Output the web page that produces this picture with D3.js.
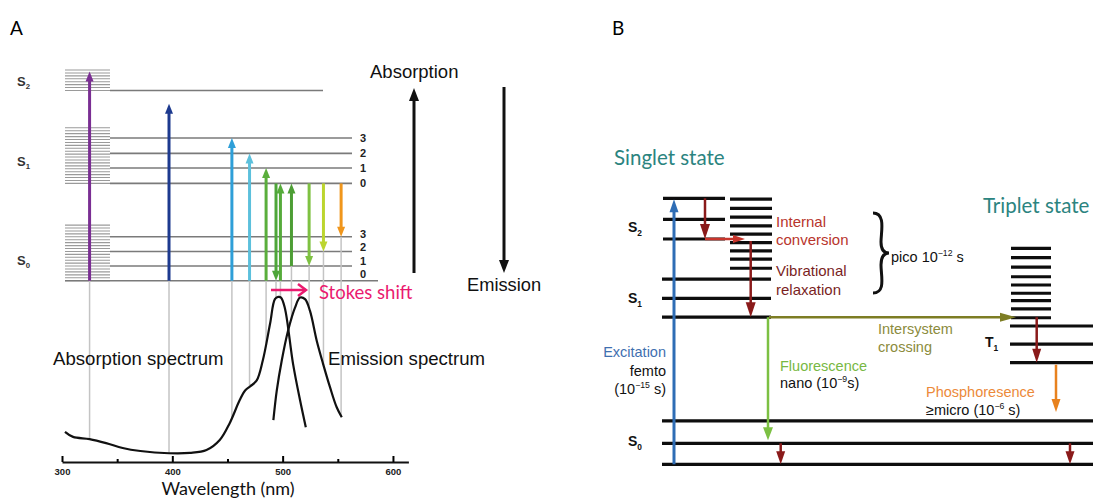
<!DOCTYPE html>
<html>
<head>
<meta charset="utf-8">
<script src="https://cdn.jsdelivr.net/npm/d3@7"></script>
<style>
  body { margin: 0; background: #fff; }
  svg { display: block; }
</style>
</head>
<body>
<div id="chart"></div>
<script>
// ---------- Panel A data ----------
// energy levels, arbitrary units (S0 v=0 is 0)
var s0Vib = [0, 1, 2, 3];
var s1Vib = [6.65, 7.7, 8.7, 9.75];
var s2Level = 13;
var vibLabels = ["0", "1", "2", "3"];
var bandS0 = [0, 3.8];
var bandS1 = [6.65, 10.5];
var bandS2 = [13, 14.4];

// transitions: wavelength (nm), start energy, end energy
var transNm   = [325, 397, 454, 470, 485, 494, 498, 508, 524, 537, 553];
var transFrom = [0, 0, 0, 0, 0, 6.65, 0, 1, 6.65, 6.65, 6.65];
var transTo   = [14.3, 12.1, 9.75, 8.7, 7.7, 0, 6.65, 6.65, 1, 2, 3];

// spectra (wavelength nm, relative intensity)
var absNm  = [302.7, 310, 325, 340, 355, 371, 397, 416, 431, 443, 452, 461, 466, 470.5, 476.5, 482, 488.6, 493, 496, 498.5, 502, 509.4, 515.8, 521];
var absVal = [0.146, 0.114, 0.10, 0.075, 0.044, 0.025, 0.011, 0.013, 0.031, 0.094, 0.2, 0.344, 0.406, 0.431, 0.469, 0.594, 0.825, 0.98, 0.994, 0.99, 0.925, 0.575, 0.344, 0.175];
var emNm   = [491.6, 494.7, 499.2, 504.9, 511.2, 515.8, 520.3, 524.8, 530.9, 536.6, 543, 549, 553.6];
var emVal  = [0.219, 0.406, 0.594, 0.781, 0.927, 0.99, 0.98, 0.906, 0.719, 0.575, 0.425, 0.3, 0.2375];
var axisTicks = [300, 400, 500, 600];
var minorTicks = [350, 450, 550];

// ---------- Panel B data ----------
var bS0 = [0, 0.79, 1.63];
var bS1 = [5.53, 6.24, 6.96];
var bS2 = [8.47, 9.21, 10];
var bSStack = [7.37, 7.71, 8.02, 8.33, 8.65, 8.96, 9.29, 9.62, 9.97];
var bT1 = [3.82, 4.52, 5.2];
var bTStack = [5.51, 5.84, 6.15, 6.43, 6.74, 7.05, 7.41, 7.77, 8.12];

var transColors = ["#7a2e93", "#1d3a8f", "#2e9fd8", "#5cc0dc", "#5aae3c", "#4ea63a",
                   "#55ab3a", "#4d9e35", "#7ec142", "#bcd52f", "#f0961c"];

var W = 1093, H = 498;
var sans = "'Liberation Sans', Arial, sans-serif";
var calib = "Lato, 'Open Sans', sans-serif";

var svg = d3.select("#chart").append("svg")
  .attr("width", W).attr("height", H);

// arrow helper: line plus filled triangular head at (x2,y2)
function arrow(g, x1, y1, x2, y2, color, w, hl, hw) {
  var dx = x2 - x1, dy = y2 - y1, len = Math.sqrt(dx * dx + dy * dy);
  var ux = dx / len, uy = dy / len;
  var bx = x2 - ux * hl, by = y2 - uy * hl;
  g.append("line")
    .attr("x1", x1).attr("y1", y1).attr("x2", bx + ux).attr("y2", by + uy)
    .attr("stroke", color).attr("stroke-width", w);
  g.append("path")
    .attr("d", "M" + x2 + "," + y2 +
      "L" + (bx - uy * hw / 2) + "," + (by + ux * hw / 2) +
      "L" + (bx + uy * hw / 2) + "," + (by - ux * hw / 2) + "Z")
    .attr("fill", color);
}

function interp(xs, ys, v) {
  if (v < xs[0] || v > xs[xs.length - 1]) return 0;
  for (var i = 1; i < xs.length; i++) {
    if (v <= xs[i]) {
      var t = (v - xs[i - 1]) / (xs[i] - xs[i - 1]);
      return ys[i - 1] + t * (ys[i] - ys[i - 1]);
    }
  }
  return 0;
}

// sub/superscript text helper
function scriptText(g, x, y, parts, opts) {
  var t = g.append("text").attr("x", x).attr("y", y)
    .attr("font-family", opts.family || sans)
    .attr("font-size", opts.size)
    .attr("font-weight", opts.weight || "normal")
    .attr("fill", opts.fill || "#111")
    .attr("text-anchor", opts.anchor || "start");
  var shift = 0;
  parts.forEach(function(p) {
    var s = t.append("tspan").text(p.t);
    var target = p.sup ? -opts.size * 0.4 : (p.sub ? opts.size * 0.25 : 0);
    s.attr("dy", target - shift);
    shift = target;
    if (p.sup || p.sub) s.attr("font-size", opts.size * 0.6);
  });
  return t;
}

// ================= PANEL A =================
var gA = svg.append("g");

gA.append("text").attr("x", 10).attr("y", 35)
  .attr("font-family", calib).attr("font-size", 19).text("A");

var yA = d3.scaleLinear().domain([0, 14.4]).range([280.7, 70]);
var xA = d3.scaleLinear().domain([300, 614]).range([62, 408.4]);
var yI = d3.scaleLinear().domain([0, 1]).range([455, 296]);

// dense vibrational bands on the left
[bandS0, bandS1, bandS2].forEach(function(b) {
  gA.append("g").selectAll("line")
    .data(d3.range(b[0], b[1] + 0.001, 0.2))
    .enter().append("line")
    .attr("x1", 65).attr("x2", 110)
    .attr("y1", d => yA(d)).attr("y2", d => yA(d))
    .attr("stroke", "#9a9a9a").attr("stroke-width", 1.1);
});

// level lines
gA.append("line").attr("x1", 110).attr("x2", 323)
  .attr("y1", yA(s2Level)).attr("y2", yA(s2Level))
  .attr("stroke", "#7a7a7a").attr("stroke-width", 1.6);
gA.selectAll(".s1lvl").data(s1Vib).enter().append("line")
  .attr("x1", 110).attr("x2", 352)
  .attr("y1", d => yA(d)).attr("y2", d => yA(d))
  .attr("stroke", "#7a7a7a").attr("stroke-width", 1.6);
gA.selectAll(".s0lvl").data(s0Vib).enter().append("line")
  .attr("x1", (d, i) => i === 0 ? 65 : 110).attr("x2", (d, i) => i === 0 ? 378 : 352)
  .attr("y1", d => yA(d)).attr("y2", d => yA(d))
  .attr("stroke", "#7a7a7a").attr("stroke-width", 1.6);

// vib labels (S0 labels sit slightly above their lines, as in the source)
s1Vib.forEach(function(e, i) {
  gA.append("text").attr("x", 360).attr("y", yA(e) + 4)
    .attr("font-family", sans).attr("font-size", 11).attr("font-weight", "bold")
    .attr("fill", "#222").text(vibLabels[i]);
});
s0Vib.forEach(function(e, i) {
  gA.append("text").attr("x", 360).attr("y", yA(e * 0.91 + 0.45) + 4)
    .attr("font-family", sans).attr("font-size", 11).attr("font-weight", "bold")
    .attr("fill", "#222").text(vibLabels[i]);
});

// state labels
[[s2Level, "2", 86], [s1Vib[1], "1", 166], [s0Vib[1], "0", 265]].forEach(function(s) {
  scriptText(gA, 17, s[2], [{t: "S"}, {t: s[1], sub: true}],
    {size: 13, weight: "bold", fill: "#333"});
});

// grey drop lines down to the spectra
transNm.forEach(function(nm, i) {
  var v = Math.max(interp(absNm, absVal, nm), interp(emNm, emVal, nm));
  var top = yA(Math.min(transFrom[i], transTo[i]));
  gA.append("line").attr("x1", xA(nm)).attr("x2", xA(nm))
    .attr("y1", top).attr("y2", v > 0 ? yI(v) : 455)
    .attr("stroke", "#c4c4c4").attr("stroke-width", 1.5);
});

// transition arrows
transNm.forEach(function(nm, i) {
  arrow(gA, xA(nm), yA(transFrom[i]), xA(nm), yA(transTo[i]),
    transColors[i], 3, 10, 8);
});

// Absorption / Emission big arrows
gA.append("text").attr("x", 370).attr("y", 78)
  .attr("font-family", sans).attr("font-size", 18.5).attr("fill", "#111").text("Absorption");
arrow(gA, 414, 273, 414, 88, "#111", 3, 13, 10);
gA.append("text").attr("x", 467).attr("y", 291)
  .attr("font-family", sans).attr("font-size", 18.3).attr("fill", "#111").text("Emission");
arrow(gA, 504, 87, 504, 273, "#111", 3, 13, 10);

// Stokes shift
gA.append("line").attr("x1", 271).attr("x2", 306).attr("y1", 290).attr("y2", 290)
  .attr("stroke", "#ea1a6f").attr("stroke-width", 2.5);
gA.append("polyline").attr("points", "298,284 306,290 298,296")
  .attr("fill", "none").attr("stroke", "#ea1a6f").attr("stroke-width", 2.5);
gA.append("text").attr("x", 319).attr("y", 299)
  .attr("font-family", calib).attr("font-size", 18.5).attr("fill", "#ea1a6f").text("Stokes shift");

// spectra
var line = d3.line().x(d => xA(d[0])).y(d => yI(d[1])).curve(d3.curveCatmullRom);
gA.append("path").datum(d3.zip(absNm, absVal)).attr("d", line)
  .attr("fill", "none").attr("stroke", "#111").attr("stroke-width", 2.2);
gA.append("path").datum(d3.zip(emNm, emVal)).attr("d", line)
  .attr("fill", "none").attr("stroke", "#111").attr("stroke-width", 2.2);

gA.append("text").attr("x", 53).attr("y", 365)
  .attr("font-family", sans).attr("font-size", 18.6).attr("fill", "#111").text("Absorption spectrum");
gA.append("text").attr("x", 328).attr("y", 365)
  .attr("font-family", sans).attr("font-size", 18.6).attr("fill", "#111").text("Emission spectrum");

// wavelength axis
var ax = gA.append("g").attr("transform", "translate(0,462)")
  .call(d3.axisBottom(xA).tickValues(axisTicks).tickSizeInner(-6).tickSizeOuter(0).tickPadding(6));
ax.select(".domain").attr("stroke-width", 2.2).attr("stroke", "#111");
ax.selectAll(".tick line").attr("stroke-width", 2);
ax.selectAll(".tick text").attr("font-family", sans).attr("font-size", 9.5)
  .attr("font-weight", "bold").attr("fill", "#222");
var axm = gA.append("g").attr("transform", "translate(0,462)")
  .call(d3.axisBottom(xA).tickValues(minorTicks).tickSizeInner(-3).tickSizeOuter(0).tickFormat(""));
axm.select(".domain").remove();
axm.selectAll(".tick line").attr("stroke-width", 2);

gA.append("text").attr("x", 228).attr("y", 495).attr("text-anchor", "middle")
  .attr("font-family", calib).attr("font-size", 18).attr("fill", "#111").text("Wavelength (nm)");

// ================= PANEL B =================
var gB = svg.append("g");
gB.append("text").attr("x", 612).attr("y", 35)
  .attr("font-family", calib).attr("font-size", 19).text("B");

var yB = d3.scaleLinear().domain([0, 10]).range([464.3, 198.3]);
var teal = "#2b8480";

gB.append("text").attr("x", 614).attr("y", 165)
  .attr("font-family", calib).attr("font-size", 20.5).attr("fill", teal).text("Singlet state");
gB.append("text").attr("x", 983).attr("y", 213)
  .attr("font-family", calib).attr("font-size", 20.5).attr("fill", teal).text("Triplet state");

function levels(data, x1, x2) {
  gB.append("g").selectAll("line").data(data).enter().append("line")
    .attr("x1", x1).attr("x2", x2)
    .attr("y1", d => yB(d)).attr("y2", d => yB(d))
    .attr("stroke", "#0d0d0d").attr("stroke-width", 3.2);
}
levels(bS2, 663, 725);
levels(bSStack, 730, 772);
levels(bS1, 662, 771);
levels(bS0, 662, 1093);
levels(bT1, 1010, 1093);
levels(bTStack, 1011, 1051);

scriptText(gB, 628, 232, [{t: "S"}, {t: "2", sub: true}], {size: 14, weight: "bold"});
scriptText(gB, 628, 303, [{t: "S"}, {t: "1", sub: true}], {size: 14, weight: "bold"});
scriptText(gB, 628, 446, [{t: "S"}, {t: "0", sub: true}], {size: 14, weight: "bold"});
scriptText(gB, 985, 347, [{t: "T"}, {t: "1", sub: true}], {size: 14, weight: "bold"});

var darkRed = "#8a1a1a";
// excitation
arrow(gB, 674, yB(bS0[0]), 674, yB(bS2[2]) + 1, "#2f6db5", 3, 13, 9);
// internal conversion
arrow(gB, 705, yB(bS2[2]), 705, yB(bS2[0]), darkRed, 2.5, 15, 10);
arrow(gB, 705, yB(bS2[0]), 745, yB(bS2[0]), "#c8352c", 2.5, 12, 8);
// vibrational relaxation
arrow(gB, 750.7, yB(bS2[0]) + 2, 750.7, yB(bS1[0]), darkRed, 2.5, 15, 10);
// fluorescence
arrow(gB, 768, yB(bS1[0]), 768, yB(bS0[1]) - 3, "#7cc043", 2.5, 13, 10);
arrow(gB, 780.7, yB(bS0[1]), 780.7, yB(bS0[0]), darkRed, 2.5, 13, 9);
// intersystem crossing
arrow(gB, 769, yB(bS1[0]), 1016, yB(bS1[0]), "#7d7d24", 2.5, 16, 9);
// triplet relaxation and phosphorescence
arrow(gB, 1036.7, yB(bS1[0]), 1036.7, yB(bT1[0]), darkRed, 2.5, 14, 9);
arrow(gB, 1056, yB(bT1[0]) + 2, 1056, yB(bS0[2]) - 9, "#e8821e", 2.5, 13, 9);
arrow(gB, 1070, yB(bS0[1]), 1070, yB(bS0[0]), darkRed, 2.5, 13, 9);

// texts
function txt(x, y, s, color, size, anchor) {
  return gB.append("text").attr("x", x).attr("y", y)
    .attr("font-family", sans).attr("font-size", size || 14.5)
    .attr("fill", color).attr("text-anchor", anchor || "start").text(s);
}
txt(776, 227, "Internal", "#b8352c", 15);
txt(776, 245, "conversion", "#b8352c", 15);
txt(776, 276, "Vibrational", "#7a1f1f", 15);
txt(776, 295, "relaxation", "#7a1f1f", 15);

// brace
gB.append("path")
  .attr("d", "M873,213 C886,213 881,232 881,242 C881,250 884,253 889,253 C884,253 881,256 881,265 C881,276 886,293 873,293")
  .attr("fill", "none").attr("stroke", "#111").attr("stroke-width", 3);
scriptText(gB, 891, 262, [{t: "pico 10"}, {t: "\u221212", sup: true}, {t: " s"}], {size: 14.5});

txt(878, 334, "Intersystem", "#8b8b3c", 14.5);
txt(878, 352, "crossing", "#8b8b3c", 14.5);

txt(666, 357, "Excitation", "#3f6fb0", 14.5, "end");
txt(666, 376, "femto", "#111", 14.5, "end");
scriptText(gB, 666, 394, [{t: "(10"}, {t: "\u221215", sup: true}, {t: " s)"}], {size: 14.5, anchor: "end"});

txt(780, 371, "Fluorescence", "#78b843", 14.5);
scriptText(gB, 780, 388, [{t: "nano (10"}, {t: "\u22129", sup: true}, {t: "s)"}], {size: 14.5});

txt(926, 397, "Phosphoresence", "#ec8a3a", 14.5);
scriptText(gB, 926, 415, [{t: "\u2265micro (10"}, {t: "\u22126", sup: true}, {t: " s)"}], {size: 14.5});
</script>
</body>
</html>
